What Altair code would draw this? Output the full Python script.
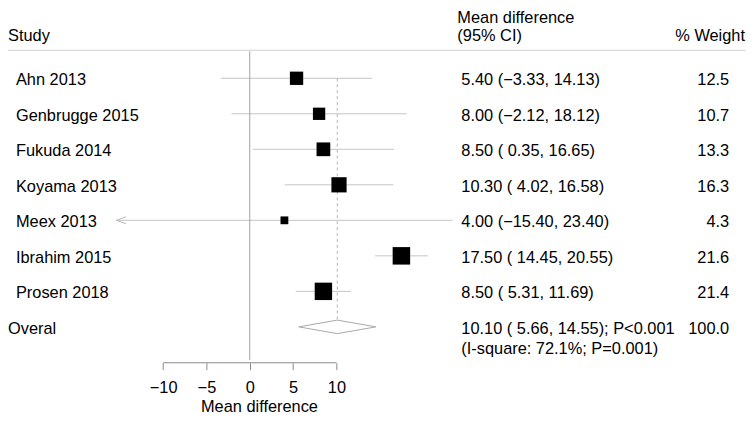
import altair as alt
import pandas as pd

# ---------------- data ----------------
studies = ["Ahn 2013", "Genbrugge 2015", "Fukuda 2014", "Koyama 2013",
           "Meex 2013", "Ibrahim 2015", "Prosen 2018"]
md = [5.40, 8.00, 8.50, 10.30, 4.00, 17.50, 8.50]
lo = [-3.33, -2.12, 0.35, 4.02, -15.40, 14.45, 5.31]
hi = [14.13, 18.12, 16.65, 16.58, 23.40, 20.55, 11.69]
weight = [12.5, 10.7, 13.3, 16.3, 4.3, 21.6, 21.4]
arrow_left = [False, False, False, False, True, False, False]

overall_label = "Overal"
overall_md = 10.10
overall_lo = 5.66
overall_hi = 14.55
overall_p = "P<0.001"
overall_weight = 100.0
i_square = "(I-square: 72.1%; P=0.001)"

axis_ticks = [-10, -5, 0, 5, 10]

# ---------------- helpers ----------------
def fmt_lo(v):
    s = f"{abs(v):.2f}"
    return ("\u2212" + s) if v < 0 else (" " + s)

ci_text = [f"{m:.2f} ({fmt_lo(l)}, {h:.2f})" for m, l, h in zip(md, lo, hi)]
w_text = [f"{w:.1f}" for w in weight]
overall_ci_text = f"{overall_md:.2f} ({fmt_lo(overall_lo)}, {overall_hi:.2f}); {overall_p}"

n = len(studies)
rows = list(range(1, n + 1))
overall_row = n + 1

df = pd.DataFrame({"study": studies, "row": rows, "md": md, "lo": lo, "hi": hi,
                   "w": weight, "ci": ci_text, "wt": w_text, "arrow": arrow_left})

# ---------------- layout / style ----------------
W = 744
PLOT_H = 356
FONT = "Liberation Sans"
FS = 16.5
DIA_H = 0.19  # diamond half-height in row units

x_scale = alt.Scale(domain=[-27.9, 57.27], nice=False, zero=False)
y_scale = alt.Scale(domain=[-0.933, 9.011], nice=False, zero=False, reverse=True)

x_axis = alt.Axis(values=axis_ticks, domain=False, grid=False,
                  tickSize=7, tickColor="#8a8a8a", tickWidth=1,
                  labelFont=FONT, labelFontSize=FS, labelColor="black",
                  labelPadding=10, labelFlush=False, labelOverlap=False,
                  title="Mean difference", titleFont=FONT,
                  titleFontSize=FS, titleFontWeight="normal",
                  titleColor="black", titleX=253, titleY=44,
                  titleBaseline="middle", titleAlign="center")

def X(field):
    return alt.X(field, scale=x_scale, axis=x_axis)

def Y(field):
    return alt.Y(field, scale=y_scale, axis=None)

ci_rule = alt.Chart(df).mark_rule(color="#c4c4c4", strokeWidth=1).encode(
    x=X("lo:Q"), x2="hi:Q", y=Y("row:Q"))

arrows = alt.Chart(df).transform_filter("datum.arrow").mark_point(
    shape="M 0 0 L 2 -0.7 M 0 0 L 2 0.7", size=100, filled=False,
    color="#b8b8b8", strokeWidth=1, opacity=1,
).encode(x=X("lo:Q"), y=Y("row:Q"))

zero_df = pd.DataFrame({"x": [0]})
zero_line = alt.Chart(zero_df).mark_rule(color="#a0a0a0", strokeWidth=1).encode(
    x=X("x:Q"), y=alt.value(42), y2=alt.value(353))

dash_df = pd.DataFrame({"x": [overall_md], "y1": [1], "y2": [overall_row - DIA_H]})
dash_line = alt.Chart(dash_df).mark_rule(color="#b4b4b4", strokeWidth=1,
                                          strokeDash=[3, 3]).encode(
    x=X("x:Q"), y=Y("y1:Q"), y2="y2:Q")

axis_df = pd.DataFrame({"a": [min(axis_ticks)], "b": [max(axis_ticks)]})
axis_line = alt.Chart(axis_df).mark_rule(color="#8a8a8a", strokeWidth=1).encode(
    x=X("a:Q"), x2="b:Q", y=alt.value(PLOT_H))

squares = alt.Chart(df).mark_square(color="black", opacity=1).encode(
    x=X("md:Q"), y=Y("row:Q"),
    size=alt.Size("w:Q", scale=alt.Scale(domain=[0, 25], range=[0, 360]), legend=None))

dia_df = pd.DataFrame({
    "x": [overall_lo, overall_md, overall_hi, overall_md, overall_lo],
    "y": [overall_row, overall_row - DIA_H, overall_row, overall_row + DIA_H, overall_row],
    "o": [0, 1, 2, 3, 4]})
diamond = alt.Chart(dia_df).mark_line(color="#a8a8a8", strokeWidth=1).encode(
    x=X("x:Q"), y=Y("y:Q"), order="o:Q")

txt = dict(font=FONT, fontSize=FS, color="black", baseline="middle")

study_text = alt.Chart(df).mark_text(align="left", dy=2, **txt).encode(
    x=alt.value(8), y=Y("row:Q"), text="study:N")
ci_txt = alt.Chart(df).mark_text(align="left", dy=2, **txt).encode(
    x=alt.value(457), y=Y("row:Q"), text="ci:N")
w_txt = alt.Chart(df).mark_text(align="right", dy=2, **txt).encode(
    x=alt.value(727), y=Y("row:Q"), text="wt:N")

ov_df = pd.DataFrame({"row": [overall_row], "label": [overall_label],
                      "ci": [overall_ci_text], "isq": [i_square],
                      "wt": [f"{overall_weight:.1f}"]})
ov_label = alt.Chart(ov_df).mark_text(align="left", dy=2, **txt).encode(
    x=alt.value(0), y=Y("row:Q"), text="label:N")
ov_ci = alt.Chart(ov_df).mark_text(align="left", dy=2, **txt).encode(
    x=alt.value(457), y=Y("row:Q"), text="ci:N")
ov_isq = alt.Chart(ov_df).mark_text(align="left", dy=22.2, **txt).encode(
    x=alt.value(457), y=Y("row:Q"), text="isq:N")
ov_w = alt.Chart(ov_df).mark_text(align="right", dy=2, **txt).encode(
    x=alt.value(727), y=Y("row:Q"), text="wt:N")

def header(t, x, y, align):
    return alt.Chart(pd.DataFrame({"t": [t]})).mark_text(align=align, **txt).encode(
        x=alt.value(x), y=alt.value(y), text="t:N")

h_study = header("Study", 0, 27, "left")
h_md1 = header("Mean difference", 453, 8.5, "left")
h_md2 = header("(95% CI)", 453, 27, "left")
h_w = header("% Weight", 743, 27, "right")

h_rule = alt.Chart(pd.DataFrame({"t": [0]})).mark_rule(color="#cfcfcf", strokeWidth=1).encode(
    x=alt.value(0), x2=alt.value(W), y=alt.value(41))

chart = alt.layer(
    ci_rule, arrows, zero_line, h_rule, dash_line, axis_line, diamond, squares,
    study_text, ci_txt, w_txt, ov_label, ov_ci, ov_isq, ov_w,
    h_study, h_md1, h_md2, h_w,
).properties(
    width=W, height=PLOT_H,
    autosize=alt.AutoSizeParams(type="none"),
    padding={"left": 0, "right": 0, "top": 0, "bottom": 50},
).configure_view(stroke=None)

chart.save("out.html", embed_options={"renderer": "svg", "actions": False})
